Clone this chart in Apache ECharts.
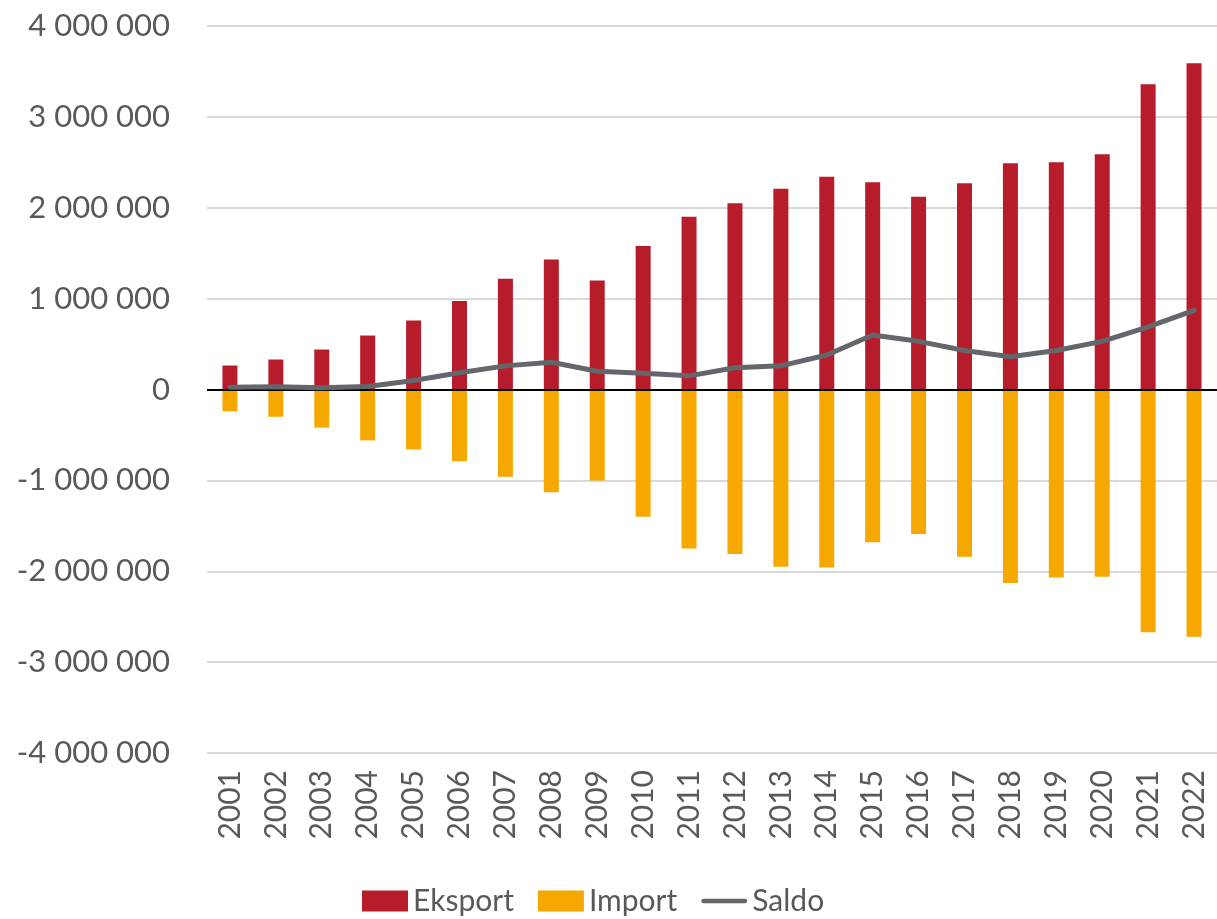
<!DOCTYPE html>
<html>
<head>
<meta charset="utf-8">
<script src="https://cdn.jsdelivr.net/npm/echarts@6/dist/echarts.min.js"></script>
<style>
  html, body { margin: 0; padding: 0; background: #fff; }
  #chart { width: 1217px; height: 919px; }
</style>
</head>
<body>
<div id="chart"></div>
<script>
// år på x-aksen
var years = ['2001', '2002', '2003', '2004', '2005', '2006', '2007', '2008', '2009', '2010', '2011',
  '2012', '2013', '2014', '2015', '2016', '2017', '2018', '2019', '2020', '2021', '2022'];
var eksport = [264000, 330000, 440000, 594000, 760000, 975000, 1220000, 1430000, 1200000, 1580000, 1900000,
  2050000, 2210000, 2340000, 2280000, 2120000, 2270000, 2490000, 2500000, 2590000, 3360000, 3590000];
var importVals = [-240000, -300000, -420000, -560000, -660000, -790000, -960000, -1130000, -1000000, -1400000, -1750000,
  -1810000, -1950000, -1960000, -1680000, -1590000, -1840000, -2130000, -2070000, -2060000, -2670000, -2720000];
var saldo = [24000, 30000, 20000, 34000, 100000, 185000, 260000, 300000, 200000, 180000, 150000,
  240000, 260000, 380000, 600000, 530000, 430000, 360000, 430000, 530000, 690000, 870000];
var yTicks = [-4000000, -3000000, -2000000, -1000000, 0, 1000000, 2000000, 3000000, 4000000];

var font = 'Lato, "Open Sans", sans-serif';
var myChart = echarts.init(document.getElementById('chart'));

// tall med mellomrom som tusenskille
var fmt = function(v) {
  var s = String(Math.abs(v)).replace(/\B(?=(\d{3})+(?!\d))/g, ' ');
  return (v < 0 ? '-' : '') + s;
};

var option = {
  animation: false,
  grid: { left: 207, right: -5, top: 26, bottom: 166 },
  legend: {
    top: 881,
    left: 357,
    itemGap: 24,
    itemWidth: 46,
    itemHeight: 21,
    textStyle: { fontFamily: font, fontSize: 30, color: '#595959' },
    data: [
      { name: 'Eksport', icon: 'rect' },
      { name: 'Import', icon: 'rect' },
      { name: 'Saldo', icon: 'path://M2,0 L46,0 A2,2 0 0 1 46,5 L2,5 A2,2 0 0 1 2,0 Z' }
    ]
  },
  xAxis: {
    type: 'category',
    data: years,
    axisLine: { show: false },
    axisTick: { show: false },
    axisLabel: {
      rotate: 90,
      fontFamily: font,
      fontSize: 30,
      color: '#595959',
      margin: 17,
      interval: 0
    }
  },
  yAxis: {
    type: 'value',
    min: yTicks[0],
    max: yTicks[yTicks.length - 1],
    interval: 1000000,
    axisLine: { show: false },
    axisTick: { show: false },
    splitLine: { lineStyle: { color: '#d9d9d9', width: 2 } },
    axisLabel: {
      fontFamily: font,
      fontSize: 31,
      color: '#595959',
      margin: 37,
      formatter: fmt
    }
  },
  series: [{
    name: 'Eksport',
    type: 'bar',
    stack: 'handel',
    barWidth: 15,
    itemStyle: { color: '#b71c2b' },
    data: eksport
  }, {
    name: 'Import',
    type: 'bar',
    stack: 'handel',
    barWidth: 15,
    itemStyle: { color: '#f6a800' },
    data: importVals,
    markLine: {
      silent: true,
      symbol: 'none',
      label: { show: false },
      lineStyle: { color: '#000', width: 2, type: 'solid' },
      data: [{ yAxis: 0 }]
    }
  }, {
    name: 'Saldo',
    type: 'line',
    symbol: 'none',
    lineStyle: { color: '#63666a', width: 5, cap: 'round' },
    itemStyle: { color: '#63666a' },
    z: 5,
    data: saldo
  }]
};
myChart.setOption(option);
</script>
</body>
</html>
